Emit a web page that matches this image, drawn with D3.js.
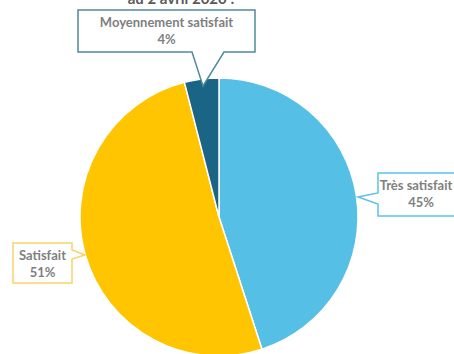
<!DOCTYPE html>
<html>
<head>
<meta charset="utf-8">
<script src="https://cdn.jsdelivr.net/npm/d3@7"></script>
<style>
  html, body { margin: 0; padding: 0; background: #fff; overflow: hidden; }
  svg { display: block; }
</style>
</head>
<body>
<svg id="chart" width="454" height="354"></svg>
<script>
// Satisfaction breakdown
const categories = ["Très satisfait", "Satisfait", "Moyennement satisfait"];
const values = [45, 51, 4];
const colors = ["#56BFE6", "#FFC500", "#1A6485"];
const borderColors = ["#5CC2E8", "#F7D36B", "#4F8B9B"];
const titleLine = "au 2 avril 2020 :";

const svg = d3.select("#chart");
const cx = 219, cy = 217, r = 139;

// Title (last line of the heading, sitting at the top edge)
svg.append("text")
  .attr("x", 181).attr("y", 4)
  .attr("text-anchor", "middle")
  .attr("font-family", "Lato, 'Open Sans', sans-serif")
  .attr("font-weight", "bold")
  .attr("font-size", 15)
  .attr("fill", "#595959")
  .text(titleLine);

const pie = d3.pie().sort(null).value(d => d)(values);
const arc = d3.arc().innerRadius(0).outerRadius(r);

const g = svg.append("g").attr("transform", `translate(${cx},${cy})`);
g.selectAll("path").data(pie).join("path")
  .attr("d", arc)
  .attr("fill", (d, i) => colors[i])
  .attr("stroke", "#fff")
  .attr("stroke-width", 1.5);

// Callout label boxes: box rect, pointer side, pointer base and tip
const callouts = [
  { i: 0, x: 378, y: 173, w: 92, h: 43, side: "left",   p0: 193, p1: 204, tip: [358, 197], tx: 416, px: 421 },
  { i: 1, x: 13,  y: 243, w: 59, h: 40, side: "right",  p0: 250, p1: 259, tip: [85, 255],  tx: 42.5, px: 42.5 },
  { i: 2, x: 78,  y: 10,  w: 177, h: 42, side: "bottom", p0: 192, p1: 224, tip: [203, 86], tx: 166.5, px: 166.5 }
];

callouts.forEach(c => {
  const [tx, ty] = c.tip;
  const x0 = c.x, y0 = c.y, x1 = c.x + c.w, y1 = c.y + c.h;
  let pts;
  if (c.side === "left") {
    pts = [[x0, y0], [x1, y0], [x1, y1], [x0, y1], [x0, c.p1], [tx, ty], [x0, c.p0]];
  } else if (c.side === "right") {
    pts = [[x0, y0], [x1, y0], [x1, c.p0], [tx, ty], [x1, c.p1], [x1, y1], [x0, y1]];
  } else {
    pts = [[x0, y0], [x1, y0], [x1, y1], [c.p1, y1], [tx, ty], [c.p0, y1], [x0, y1]];
  }
  svg.append("path")
    .attr("d", d3.line()(pts) + "Z")
    .attr("fill", "#fff")
    .attr("stroke", borderColors[c.i])
    .attr("stroke-width", 1.5);

  const t = svg.append("text")
    .attr("text-anchor", "middle")
    .attr("font-family", "Lato, 'Open Sans', sans-serif")
    .attr("font-weight", "bold")
    .attr("font-size", 13)
    .attr("fill", "#7F7F7F");
  t.append("tspan").attr("x", c.tx).attr("y", c.y + 17).text(categories[c.i]);
  t.append("tspan").attr("x", c.px).attr("y", c.y + 34).text(values[c.i] + "%");
});
</script>
</body>
</html>
